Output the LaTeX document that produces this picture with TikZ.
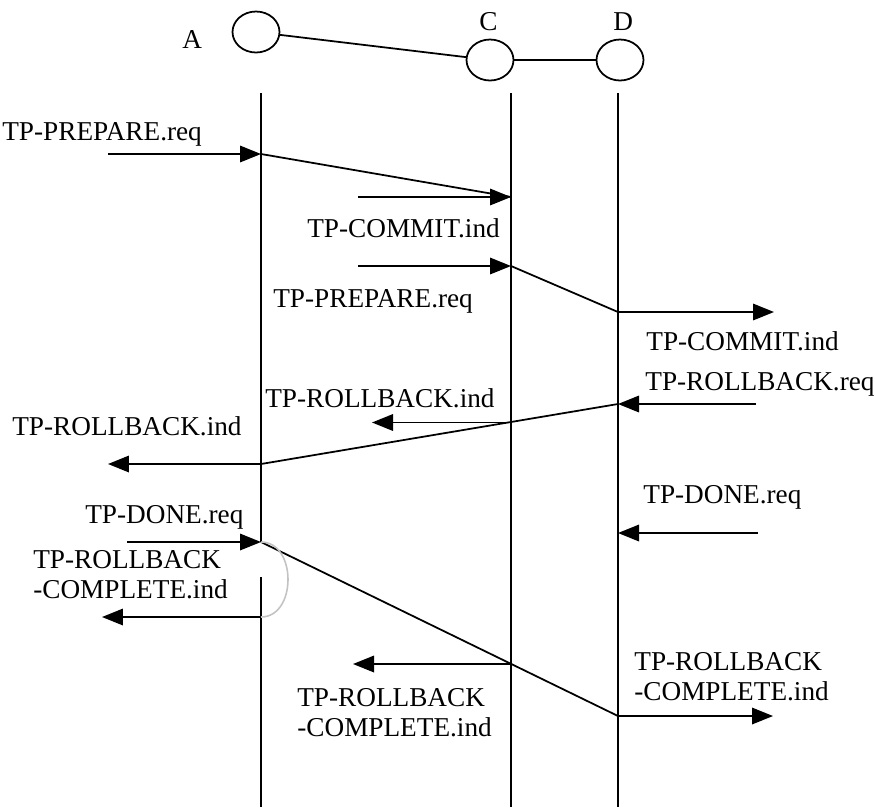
\documentclass[tikz,border=0pt]{standalone}
\usepackage{fontspec}
\setmainfont{Liberation Serif}
\usetikzlibrary{arrows.meta,shapes.geometric}
\definecolor{loopcol}{RGB}{195,195,195}

\begin{document}
\begin{tikzpicture}[x=0.02cm,y=-0.02cm,>={Triangle[length=0.42cm,width=0.33cm]},
  site/.style={draw,ellipse,line width=1pt,minimum width=0.94cm,minimum height=0.82cm,inner sep=0pt},
  msg/.style={line width=1pt},
  life/.style={line width=0.9pt},
  lbl/.style={anchor=base west,inner sep=0pt,font=\fontsize{15.5}{17}\selectfont,align=left}]
  \useasboundingbox (0,0) rectangle (875,809);
  % sites
  \node[site] (sA) at (256,32) {};
  \node[site] (sC) at (490,60) {};
  \node[site] (sD) at (620,60) {};
  \node[lbl] (nA) at (182,48) {A};
  \node[lbl] (nC) at (479,30) {C};
  \node[lbl] (nD) at (613,30) {D};
  \draw[msg] (sA) -- (sC);
  \draw[msg] (sC) -- (sD);
  % lifelines
  \coordinate (A0) at (261,93);  \coordinate (A9) at (261,807);
  \coordinate (C0) at (511,93);  \coordinate (C9) at (511,807);
  \coordinate (D0) at (618,93);  \coordinate (D9) at (618,807);
  \coordinate (A4) at (261,542); \coordinate (A5) at (261,577);
  \draw[life] (A0) -- (A4);
  \draw[life] (A5) -- (A9);
  \draw[life] (C0) -- (C9);
  \draw[life] (D0) -- (D9);
  % prepare
  \coordinate (A1) at (261,154); \coordinate (p1) at (108,154);
  \coordinate (C1) at (511,197); \coordinate (p2) at (358,197);
  \coordinate (C2) at (511,266); \coordinate (p3) at (358,266);
  \coordinate (D1) at (618,312); \coordinate (p4) at (774,312);
  \draw[msg,->] (p1) -- (A1);
  \draw[msg] (A1) -- (C1);
  \draw[msg,->] (p2) -- (C1);
  \draw[msg,->] (p3) -- (C2);
  \draw[msg] (C2) -- (D1);
  \draw[msg,->] (D1) -- (p4);
  \node[lbl] (t1) at (2,140) {TP-PREPARE.req};
  \node[lbl] (t2) at (307,237) {TP-COMMIT.ind};
  \node[lbl] (t3) at (273,307) {TP-PREPARE.req};
  \node[lbl] (t4) at (646,350) {TP-COMMIT.ind};
  % rollback
  \coordinate (D2) at (618,404); \coordinate (p5) at (756,404);
  \coordinate (C3) at (511,422.5); \coordinate (p6) at (372,422.5);
  \coordinate (A2) at (261,464); \coordinate (p7) at (108,464);
  \draw[msg,->] (p5) -- (D2);
  \draw[msg] (D2) -- (A2);
  \draw[msg,->] (C3) -- (p6);
  \draw[msg,->] (A2) -- (p7);
  \node[lbl] (t5) at (645,390) {TP-ROLLBACK.req};
  \node[lbl] (t6) at (265,407) {TP-ROLLBACK.ind};
  \node[lbl] (t7) at (12,435) {TP-ROLLBACK.ind};
  % done
  \coordinate (D3) at (618,533); \coordinate (p8) at (758,533);
  \coordinate (p9) at (127,542);
  \coordinate (C4) at (511,664); \coordinate (p10) at (353,664);
  \coordinate (D4) at (618,716); \coordinate (p11) at (773,716);
  \coordinate (A6) at (261,617); \coordinate (p12) at (102,617);
  \draw[msg,->] (p8) -- (D3);
  \draw[msg,->] (p9) -- (A4);
  \draw[msg] (A4) -- (D4);
  \draw[msg,->] (C4) -- (p10);
  \draw[msg,->] (D4) -- (p11);
  \draw[msg,->] (A6) -- (p12);
  \draw[loopcol,line width=0.9pt] (A4) .. controls (297,542) and (297,617) .. (A6);
  \node[lbl] (t8) at (643,503) {TP-DONE.req};
  \node[lbl] (t9) at (85,523) {TP-DONE.req};
  \node[lbl] (t10) at (33,598) {TP-ROLLBACK\\-COMPLETE.ind};
  \node[lbl] (t11) at (297,736) {TP-ROLLBACK\\-COMPLETE.ind};
  \node[lbl] (t12) at (634,700) {TP-ROLLBACK\\-COMPLETE.ind};
\end{tikzpicture}
\end{document}
